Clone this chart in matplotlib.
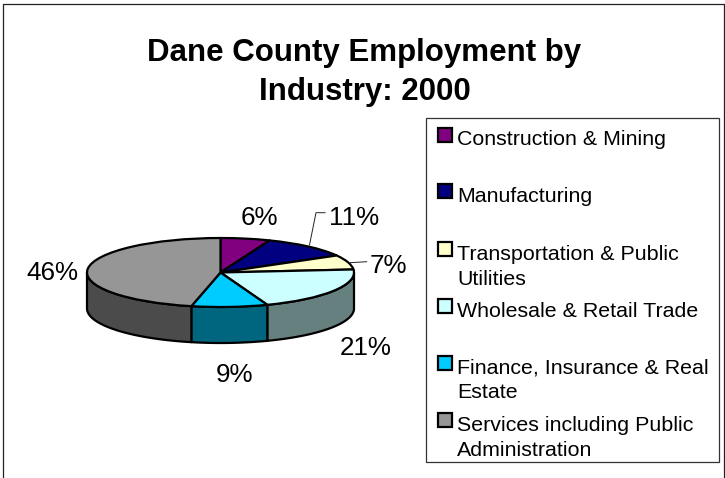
import numpy as np
import matplotlib
matplotlib.use("Agg")
import matplotlib.pyplot as plt
from matplotlib.patches import Polygon, Rectangle
from matplotlib.lines import Line2D

plt.rcParams['font.family'] = ['Liberation Sans', 'DejaVu Sans']

categories = ["Construction & Mining", "Manufacturing", "Transportation & Public\nUtilities",
              "Wholesale & Retail Trade", "Finance, Insurance & Real\nEstate",
              "Services including Public\nAdministration"]
labels = [6, 11, 7, 21, 9, 46]
values = [6.0, 10.8, 6.8, 20.7, 9.2, 46.5]
colors = ["#800080", "#000080", "#FFFFCC", "#CCFFFF", "#00CCFF", "#969696"]
title = "Dane County Employment by\nIndustry: 2000"

W, H = 725, 478
CX, CY, RX, RY, DEPTH = 220.5, 272.5, 133.5, 34.5, 36.0

fig = plt.figure(figsize=(W / 100, H / 100), dpi=100, facecolor="white")

ov = fig.add_axes([0, 0, 1, 1], zorder=3)
ov.set_xlim(0, W); ov.set_ylim(H, 0); ov.axis("off"); ov.patch.set_alpha(0)

ax = fig.add_axes([0, 0, 1, 1], zorder=2)
wedges, _ = ax.pie(values, colors=colors, startangle=90, counterclock=False, radius=1,
                   wedgeprops=dict(edgecolor="black", linewidth=1.6, joinstyle="round"))
ax.set_aspect("auto")
ax.set_xlim(-CX / RX, (W - CX) / RX)
ax.set_ylim((CY - H) / RY, CY / RY)
ax.axis("off")
for w in wedges:
    w.set_zorder(5)

d = DEPTH / RY
for w, c in zip(wedges, colors):
    lo, hi = max(w.theta1, -180), min(w.theta2, 0)
    if hi <= lo:
        continue
    t = np.radians(np.linspace(lo, hi, 80))
    xs, ys = np.cos(t), np.sin(t)
    pts = np.r_[np.c_[xs, ys], np.c_[xs[::-1], ys[::-1] - d]]
    rgb = np.array(matplotlib.colors.to_rgb(c)) * 0.5
    ax.add_patch(Polygon(pts, closed=True, facecolor=rgb, edgecolor="black",
                         linewidth=1.6, joinstyle="round", zorder=2))

ov.add_line(Line2D([3.5, 3.5, 723.8, 723.8], [H, 4.2, 4.2, H], color="#222222", lw=0.9))

for line, y in zip(title.split("\n"), [61, 100]):
    ov.text(364.5, y, line, fontsize=22.5, fontweight="bold", ha="center", va="baseline", color="black")

label_x = [259.5, 354.5, 388.5, 366, 234.5, 52.5]
label_y = [225, 225, 273, 355, 382, 280]
for v, x, y in zip(labels, label_x, label_y):
    ov.text(x, y, f"{v}%", fontsize=18.7, ha="center", va="baseline", color="black")

ov.add_line(Line2D([309.5, 316, 325], [245, 212.7, 212.7], color="#222222", lw=0.7))
ov.add_line(Line2D([350, 366.7], [262.7, 261.7], color="#222222", lw=0.7))

ov.add_patch(Rectangle((426, 118), 293, 344, facecolor="white", edgecolor="#333333", lw=0.9))
swatch_y = [127.5, 183.5, 241.5, 298.5, 356, 413]
text_y = [145, 201.7, 260, 316.7, 373.3, 431]
for lab, c, sy, ty in zip(categories, colors, swatch_y, text_y):
    ov.add_patch(Rectangle((438.5, sy), 14, 14, facecolor=c, edgecolor="black", lw=1.6, zorder=4))
    for i, part in enumerate(lab.split("\n")):
        ov.text(457, ty + i * 24.6, part, fontsize=15.4, ha="left", va="baseline", color="black")

fig.savefig("out.png", dpi=100, facecolor="white")
